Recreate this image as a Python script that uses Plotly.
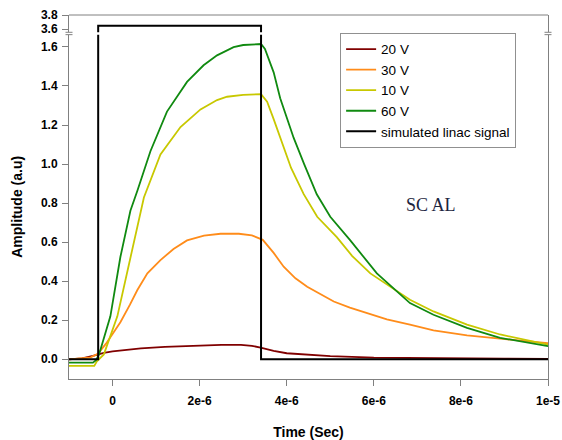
import plotly.graph_objects as go

# ---- data (time in microseconds, converted to seconds below) ----
t20 = [-1.0, -0.7, -0.45, -0.2, 0.0, 0.3, 0.65, 1.2, 1.8, 2.5, 2.95, 3.2, 3.4, 3.7, 4.0, 4.5, 5.0, 6.0, 7.0, 8.0, 9.0, 10.0]
v20 = [0.0, 0.005, 0.018, 0.033, 0.040, 0.048, 0.056, 0.064, 0.070, 0.074, 0.074, 0.069, 0.060, 0.043, 0.031, 0.022, 0.016, 0.009, 0.006, 0.004, 0.003, 0.002]

t30 = [-1.0, -0.7, -0.5, -0.33, -0.15, 0.0, 0.18, 0.4, 0.57, 0.8, 1.1, 1.4, 1.71, 2.1, 2.48, 2.9, 3.2, 3.45, 3.7, 3.93, 4.2, 4.47, 4.8, 5.08, 5.45, 5.84, 6.3, 6.83, 7.37, 8.14, 8.9, 9.82, 10.0]
v30 = [0.0, 0.004, 0.01, 0.03, 0.08, 0.13, 0.19, 0.28, 0.355, 0.44, 0.508, 0.565, 0.609, 0.633, 0.643, 0.643, 0.635, 0.612, 0.545, 0.474, 0.415, 0.372, 0.33, 0.296, 0.265, 0.237, 0.205, 0.178, 0.148, 0.122, 0.105, 0.085, 0.082]

t10 = [-1.0, -0.42, -0.36, -0.2, 0.11, 0.41, 0.72, 1.1, 1.56, 2.02, 2.4, 2.63, 3.0, 3.41, 3.55, 3.7, 3.85, 4.1, 4.39, 4.7, 5.15, 5.5, 5.92, 6.4, 6.83, 7.37, 8.14, 8.9, 9.5, 9.97, 10.0]
v10 = [-0.034, -0.034, -0.01, 0.025, 0.22, 0.524, 0.829, 1.049, 1.19, 1.28, 1.328, 1.345, 1.355, 1.358, 1.32, 1.23, 1.134, 0.98, 0.846, 0.73, 0.626, 0.53, 0.44, 0.37, 0.305, 0.245, 0.178, 0.127, 0.098, 0.076, 0.075]

t60 = [-1.0, -0.45, -0.38, -0.31, -0.05, 0.18, 0.41, 0.57, 0.87, 1.25, 1.71, 2.09, 2.4, 2.78, 3.0, 3.41, 3.5, 3.7, 3.85, 4.16, 4.4, 4.69, 5.0, 5.46, 6.07, 6.83, 7.37, 8.14, 8.9, 9.5, 9.97, 10.0]
v60 = [-0.017, -0.017, -0.005, 0.025, 0.22, 0.524, 0.761, 0.863, 1.066, 1.269, 1.421, 1.506, 1.557, 1.599, 1.61, 1.615, 1.59, 1.47, 1.337, 1.134, 1.0, 0.845, 0.73, 0.609, 0.44, 0.288, 0.228, 0.161, 0.11, 0.085, 0.068, 0.067]

t_sig = [-1.0, -0.33, -0.33, 3.41, 3.41, 10.0]
v_sig = [0.0, 0.0, 3.65, 3.65, 0.0, 0.0]

x_tickvals = [0, 2e-6, 4e-6, 6e-6, 8e-6, 1e-5]
x_ticktext = ["0", "2e-6", "4e-6", "6e-6", "8e-6", "1e-5"]
y_tickvals = [0.0, 0.2, 0.4, 0.6, 0.8, 1.0, 1.2, 1.4, 1.6]
y2_tickvals = [3.6, 3.8]

def sec(ts):
    return [t * 1e-6 for t in ts]

series = [
    ("20 V", t20, v20, "#800000"),
    ("30 V", t30, v30, "#ff8c1a"),
    ("10 V", t10, v10, "#c8c800"),
    ("60 V", t60, v60, "#108a10"),
]

fig = go.Figure()
for name, t, v, c in series:
    fig.add_trace(go.Scatter(x=sec(t), y=v, name=name, mode="lines",
                             line=dict(color=c, width=1.8), xaxis="x", yaxis="y"))
fig.add_trace(go.Scatter(x=sec(t_sig), y=v_sig, name="simulated linac signal", mode="lines",
                         line=dict(color="black", width=2), xaxis="x", yaxis="y"))
fig.add_trace(go.Scatter(x=sec(t_sig), y=v_sig, name="simulated linac signal", mode="lines",
                         line=dict(color="black", width=2), xaxis="x", yaxis="y2",
                         showlegend=False))

axis_common = dict(showline=True, linecolor="#808080", linewidth=1, ticks="outside",
                   tickcolor="#808080", ticklen=6, showgrid=False, zeroline=False,
                   automargin=False,
                   tickfont=dict(family="Liberation Sans, Arial", size=12, color="black",
                                 weight="bold"))

low_top = 0.946
up_bot = 0.9525

fig.update_layout(
    width=562, height=440,
    margin=dict(l=69, r=14, t=15, b=61),
    paper_bgcolor="white", plot_bgcolor="white",
    font=dict(family="Liberation Sans, Arial", size=12, color="black"),
    xaxis=dict(range=[-1e-6, 1e-5], tickvals=x_tickvals, ticktext=x_ticktext,
               anchor="y", ticklabelstandoff=5,
               title=dict(text="<b>Time (Sec)</b>", standoff=21,
                          font=dict(size=14, family="Liberation Sans, Arial")),
               **axis_common),
    yaxis=dict(domain=[0, low_top], range=[-0.101, 1.663], tickvals=y_tickvals,
               tickformat=".1f", mirror=True, anchor="x", ticklabelstandoff=2,
               title=dict(text="<b>Amplitude (a.u)</b>", standoff=14,
                          font=dict(size=14, family="Liberation Sans, Arial")),
               **axis_common),
    yaxis2=dict(domain=[up_bot, 1], range=[3.558, 3.8], tickvals=y2_tickvals,
                tickformat=".1f", mirror=True, anchor="x", ticklabelstandoff=2,
                **axis_common),
    legend=dict(x=0.566, y=0.951, xanchor="left", yanchor="top",
                bordercolor="#909090", borderwidth=1, bgcolor="white",
                font=dict(size=13.5, family="Liberation Sans, Arial"),
                tracegroupgap=0),
    showlegend=True,
)

# top frame line
fig.add_shape(type="line", xref="paper", yref="paper", x0=0, x1=1, y0=1, y1=1,
              line=dict(color="#808080", width=1))
# axis break marks
px = 1 / 479
for xb in (0, 1):
    for yb in (up_bot, low_top):
        fig.add_shape(type="line", xref="paper", yref="paper",
                      x0=xb - 3.5 * px, x1=xb + 3.5 * px, y0=yb, y1=yb,
                      line=dict(color="#808080", width=1))

fig.add_annotation(text="SC AL", xref="paper", yref="paper",
                   x=(431 - 69) / 479, y=(379 - 205) / 364, showarrow=False,
                   xanchor="center", yanchor="middle",
                   font=dict(family="Liberation Serif, DejaVu Serif", size=18, color="#1c2540"))

fig.write_html("out.html")
